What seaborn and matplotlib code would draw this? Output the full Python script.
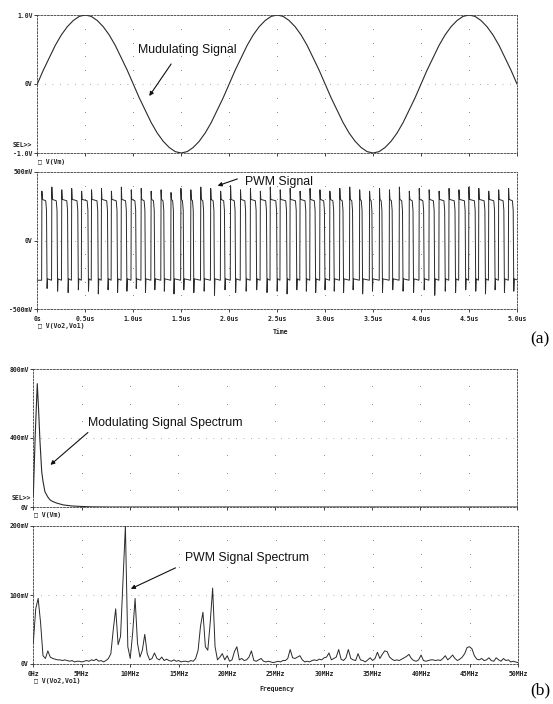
import numpy as np
import pandas as pd
import matplotlib
matplotlib.use("Agg")
import matplotlib.pyplot as plt
import seaborn as sns

# ---------------- data ----------------
# (a) top: modulating signal V(Vm), sampled every 0.0625 us, 0 .. 5 us
vm_volts = [0.00, 0.20, 0.38, 0.56, 0.71, 0.83, 0.92, 0.98, 1.00, 0.98, 0.92, 0.83, 0.71, 0.56, 0.38, 0.20,
            0.00, -0.20, -0.38, -0.56, -0.71, -0.83, -0.92, -0.98, -1.00, -0.98, -0.92, -0.83, -0.71, -0.56, -0.38, -0.20,
            0.00, 0.20, 0.38, 0.56, 0.71, 0.83, 0.92, 0.98, 1.00, 0.98, 0.92, 0.83, 0.71, 0.56, 0.38, 0.20,
            0.00, -0.20, -0.38, -0.56, -0.71, -0.83, -0.92, -0.98, -1.00, -0.98, -0.92, -0.83, -0.71, -0.56, -0.38, -0.20,
            0.00, 0.20, 0.38, 0.56, 0.71, 0.83, 0.92, 0.98, 1.00, 0.98, 0.92, 0.83, 0.71, 0.56, 0.38, 0.20,
            0.00]

# (a) bottom: PWM signal V(Vo2,Vo1)
pwm_first_edge_us = 0.045
pwm_period_us = 0.1035
pwm_high_v = 0.30
pwm_low_v = -0.29
pwm_duty = [0.53, 0.59, 0.65, 0.68, 0.70, 0.69, 0.67, 0.63, 0.57, 0.51, 0.44, 0.38, 0.34, 0.31, 0.30, 0.31,
            0.35, 0.39, 0.45, 0.52, 0.58, 0.64, 0.68, 0.70, 0.70, 0.68, 0.64, 0.58, 0.52, 0.45, 0.39, 0.35,
            0.31, 0.30, 0.31, 0.34, 0.38, 0.44, 0.51, 0.57, 0.63, 0.67, 0.69, 0.70, 0.68, 0.65, 0.59, 0.53]
pwm_spike_hi = [0.36, 0.39, 0.37, 0.38, 0.36, 0.37, 0.38, 0.36, 0.39, 0.37, 0.38, 0.36, 0.37, 0.35, 0.38, 0.37,
                0.39, 0.38, 0.36, 0.40, 0.37, 0.38, 0.36, 0.39, 0.37, 0.38, 0.36, 0.38, 0.37, 0.36, 0.38, 0.39,
                0.37, 0.36, 0.38, 0.37, 0.39, 0.36, 0.38, 0.37, 0.36, 0.38, 0.37, 0.39, 0.38, 0.36, 0.37, 0.38]
pwm_spike_lo = [-0.35, -0.37, -0.38, -0.36, -0.37, -0.39, -0.36, -0.38, -0.37, -0.35, -0.38, -0.36, -0.37, -0.39, -0.36, -0.38,
                -0.37, -0.40, -0.36, -0.38, -0.37, -0.36, -0.38, -0.37, -0.39, -0.36, -0.37, -0.38, -0.36, -0.37, -0.38, -0.36,
                -0.39, -0.37, -0.38, -0.36, -0.37, -0.38, -0.36, -0.40, -0.37, -0.38, -0.36, -0.37, -0.39, -0.36, -0.38, -0.37]

# (b) top: modulating signal spectrum (MHz, mV)
vm_spec_mhz = [0.0, 0.2, 0.41, 0.55, 0.69, 0.87, 1.0, 1.2, 1.5, 1.73, 2.0, 2.4, 3.1, 4.0, 5.0, 6.0, 8.0, 50.0]
vm_spec_mv = [60, 420, 715, 560, 380, 205, 150, 89, 58, 41, 32, 23, 12, 6, 3, 1, 0, 0]

# (b) bottom: PWM spectrum, sampled every 0.25 MHz, 0 .. 50 MHz (mV)
pwm_spec_mv = [
    30, 80, 95, 60, 12, 8, 19, 10, 8, 7, 6, 6, 5, 6, 5, 4, 5, 3, 4, 4,
    3, 4, 5, 4, 6, 5, 7, 4, 5, 3, 5, 8, 15, 50, 80, 28, 40, 120, 200, 25,
    8, 45, 95, 30, 10, 20, 43, 15, 6, 8, 16, 8, 6, 10, 5, 7, 5, 4, 6, 4,
    5, 3, 4, 4, 3, 5, 4, 8, 20, 55, 75, 25, 20, 60, 110, 25, 6, 10, 15, 6,
    12, 4, 6, 18, 25, 6, 8, 5, 6, 10, 19, 5, 4, 6, 8, 4, 3, 4, 3, 2,
    3, 4, 3, 5, 5, 8, 21, 9, 8, 10, 12, 6, 3, 4, 3, 5, 6, 5, 7, 6,
    9, 10, 16, 6, 8, 10, 21, 7, 5, 9, 21, 8, 6, 5, 15, 6, 5, 3, 6, 9,
    5, 8, 17, 8, 14, 19, 18, 10, 7, 5, 6, 5, 7, 9, 11, 14, 8, 5, 4, 6,
    13, 5, 4, 5, 6, 6, 5, 6, 5, 8, 12, 6, 9, 13, 8, 5, 7, 10, 15, 24,
    25, 22, 12, 7, 6, 8, 5, 6, 9, 5, 4, 9, 6, 4, 8, 5, 6, 3, 4, 3,
    2]

time_ticks = [0, 0.5, 1.0, 1.5, 2.0, 2.5, 3.0, 3.5, 4.0, 4.5, 5.0]
time_labels = ["0s", "0.5us", "1.0us", "1.5us", "2.0us", "2.5us", "3.0us", "3.5us", "4.0us", "4.5us", "5.0us"]
freq_ticks = [0, 5, 10, 15, 20, 25, 30, 35, 40, 45, 50]
freq_labels = ["0Hz", "5MHz", "10MHz", "15MHz", "20MHz", "25MHz", "30MHz", "35MHz", "40MHz", "45MHz", "50MHz"]

# ---------------- tables ----------------
vm_df = pd.DataFrame({"t": np.linspace(0, 5, len(vm_volts)), "v": vm_volts})

t_pts, v_pts = [0.0], [pwm_low_v]
for k in range(len(pwm_duty)):
    r = pwm_first_edge_us + k * pwm_period_us
    f = r + pwm_duty[k] * pwm_period_us
    t_pts += [r, r + 0.003, r + 0.008, f - 0.012, f - 0.004, f + 0.002, f + 0.007, r + pwm_period_us - 0.001]
    v_pts += [pwm_low_v, pwm_spike_hi[k], pwm_high_v, pwm_high_v - 0.01, pwm_high_v - 0.08,
              pwm_spike_lo[k], pwm_low_v + 0.01, pwm_low_v]
pwm_df = pd.DataFrame({"t": t_pts, "v": v_pts})

vmspec_df = pd.DataFrame({"f": vm_spec_mhz, "mv": vm_spec_mv})
pwmspec_df = pd.DataFrame({"f": np.arange(len(pwm_spec_mv)) * 0.25, "mv": pwm_spec_mv})

# ---------------- figure ----------------
sns.set_theme(style="white")
plt.rcParams["font.family"] = ["DejaVu Sans Mono", "DejaVu Sans"]

W, H = 553, 704
fig = plt.figure(figsize=(W / 100, H / 100), dpi=100)
fig.patch.set_facecolor("white")


def axrect(x0, y0, x1, y1):
    return fig.add_axes([x0 / W, 1 - y1 / H, (x1 - x0) / W, (y1 - y0) / H])


ax1 = axrect(37.3, 15, 517, 153)
ax2 = axrect(37.3, 172, 517, 309)
ax3 = axrect(33.3, 369, 517, 507)
ax4 = axrect(33.3, 526, 518, 664)

LINE = "#2a2a2a"
GRID = "#8a8a8a"
TICKFS = 4.7


def style(ax, xlim, ylim, yticks, ylabels, xticks, xlabels, minor_y, major_y_inner):
    ax.set_xlim(xlim)
    ax.set_ylim(ylim)
    ax.set_facecolor("white")
    for s in ax.spines.values():
        s.set_visible(True)
        s.set_linestyle((0, (2.2, 1.8)))
        s.set_linewidth(0.6)
        s.set_color("#3a3a3a")
    ax.set_yticks(yticks)
    ax.set_yticklabels(ylabels)
    ax.set_xticks(xticks)
    ax.set_xticklabels(xlabels if xlabels else [""] * len(xticks))
    ax.tick_params(axis="both", direction="out", length=2.2, width=0.6, colors="#222222",
                   labelsize=TICKFS, left=True, bottom=True)
    ax.tick_params(axis="y", pad=1.2)
    ax.tick_params(axis="x", pad=2.5)
    for lb in ax.get_xticklabels() + ax.get_yticklabels():
        lb.set_fontweight("bold")
    ax.set_xlabel("")
    ax.set_ylabel("")
    ax.grid(False)
    inner_x = xticks[1:-1]
    X, Y = np.meshgrid(inner_x, minor_y)
    ax.scatter(X.ravel(), Y.ravel(), s=0.5, color=GRID, linewidths=0, zorder=1)
    for y in major_y_inner:
        ax.axhline(y, ls=(0, (1, 8)), lw=0.6, color=GRID, zorder=1)


sns.lineplot(data=vm_df, x="t", y="v", ax=ax1, color=LINE, lw=0.8, estimator=None, sort=False, legend=False)
style(ax1, (0, 5), (-1.0, 1.0), [1.0, 0, -1.0], ["1.0V", "0V", "-1.0V"], time_ticks, None,
      [-0.8, -0.6, -0.4, -0.2, 0.2, 0.4, 0.6, 0.8], [0])

sns.lineplot(data=pwm_df, x="t", y="v", ax=ax2, color=LINE, lw=0.7, estimator=None, sort=False, legend=False)
style(ax2, (0, 5), (-0.5, 0.5), [0.5, 0, -0.5], ["500mV", "0V", "-500mV"], time_ticks, time_labels,
      [-0.4, -0.3, -0.2, -0.1, 0.1, 0.2, 0.3, 0.4], [0])

sns.lineplot(data=vmspec_df, x="f", y="mv", ax=ax3, color=LINE, lw=0.8, estimator=None, sort=False, legend=False)
style(ax3, (0, 50), (0, 800), [800, 400, 0], ["800mV", "400mV", "0V"], freq_ticks, None,
      [100, 200, 300, 500, 600, 700], [400])

sns.lineplot(data=pwmspec_df, x="f", y="mv", ax=ax4, color=LINE, lw=0.7, estimator=None, sort=False, legend=False)
style(ax4, (0, 50), (0, 200), [200, 100, 0], ["200mV", "100mV", "0V"], freq_ticks, freq_labels,
      [20, 40, 60, 80, 120, 140, 160, 180], [100])


# ---------------- texts ----------------
def ftext(x, y, s, **kw):
    fig.text(x / W, 1 - y / H, s, **kw)


small = dict(fontsize=TICKFS, fontweight="bold", color="#222222", va="center",
             family=["DejaVu Sans Mono", "DejaVu Sans"])
ftext(32, 145, "SEL>>", ha="right", **small)
ftext(38, 162, "\u25a1 V(Vm)", ha="left", **small)
ftext(38, 326, "\u25a1 V(Vo2,Vo1)", ha="left", **small)
ftext(280, 332, "Time", ha="center", **small)
ftext(31, 498, "SEL>>", ha="right", **small)
ftext(34, 515.5, "\u25a1 V(Vm)", ha="left", **small)
ftext(34, 681, "\u25a1 V(Vo2,Vo1)", ha="left", **small)
ftext(276.5, 689.5, "Frequency", ha="center", **small)

ann = dict(fontsize=8.8, color="#111111", va="center", ha="left", family=["Liberation Sans", "DejaVu Sans"])
ftext(138, 50, "Mudulating Signal", **ann)
ftext(245, 182, "PWM Signal", **ann)
ftext(88, 423, "Modulating Signal Spectrum", **ann)
ftext(185, 558, "PWM Signal Spectrum", **ann)

serif = dict(fontsize=12.5, color="black", va="center", ha="left", family=["Liberation Serif", "DejaVu Serif"])
ftext(530, 339, "(a)", **serif)
ftext(530, 690, "(b)", **serif)


def arrow(x0, y0, x1, y1):
    fig.add_artist(matplotlib.patches.FancyArrowPatch(
        (x0 / W, 1 - y0 / H), (x1 / W, 1 - y1 / H), transform=fig.transFigure,
        arrowstyle="-|>", mutation_scale=6, lw=0.8, color="#111111"))


arrow(172.7, 61.7, 147.7, 98.3)
arrow(240, 178, 215, 186.7)
arrow(90, 430.7, 48.3, 466.7)
arrow(178, 566.7, 128.3, 590)

fig.savefig("out.png", dpi=100, facecolor="white")
